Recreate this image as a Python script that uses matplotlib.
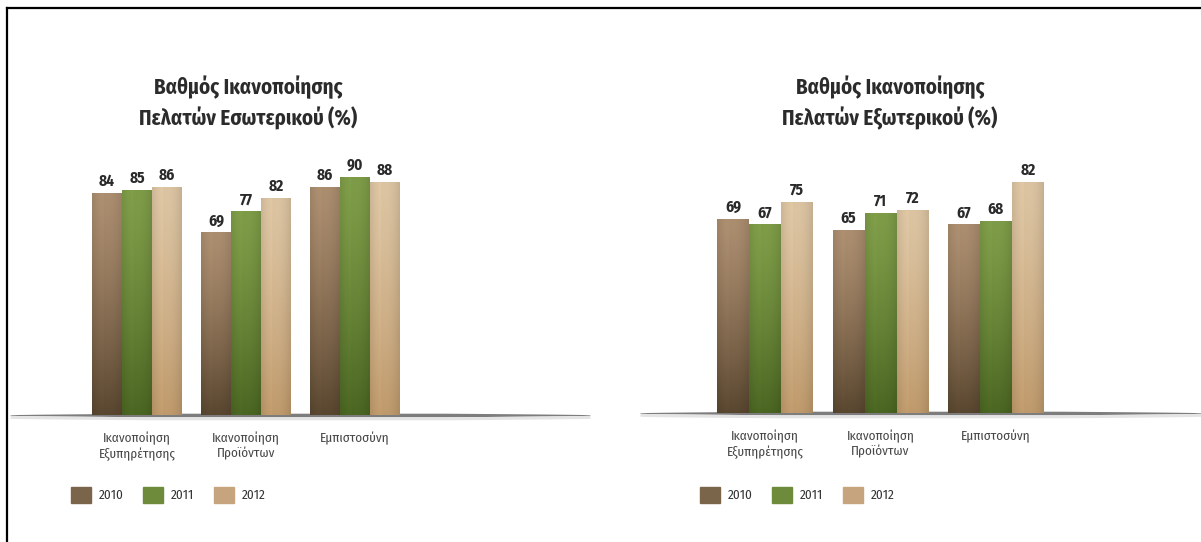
import matplotlib.pyplot as plt
import numpy as np
from matplotlib.lines import Line2D
from matplotlib.patches import Patch
from matplotlib.colors import to_rgb

# Data
years = ['2010', '2011', '2012']
categories = ['Ικανοποίηση\nΕξυπηρέτησης', 'Ικανοποίηση\nΠροϊόντων', 'Εμπιστοσύνη']
internal = {'2010': [84, 69, 86], '2011': [85, 77, 90], '2012': [86, 82, 88]}
external = {'2010': [69, 65, 67], '2011': [67, 71, 68], '2012': [75, 72, 82]}
title_int = ['Βαθμός Ικανοποίησης', 'Πελατών Εσωτερικού (%)']
title_ext = ['Βαθμός Ικανοποίησης', 'Πελατών Εξωτερικού (%)']

# bar gradients (top, bottom) and legend colours
grad = {'2010': ('#ab8d6f', '#5a4730'),
        '2011': ('#7e9c48', '#4b6622'),
        '2012': ('#dcc4a2', '#bf9a6c')}
legend_col = {'2010': '#7b654a', '2011': '#6e8b3c', '2012': '#c6a57e'}

FONT = ['Fira Sans Condensed', 'DejaVu Sans']
W, H = 1201, 542

fig = plt.figure(figsize=(W / 100, H / 100), dpi=100)


def gradient_img(top, bottom, n=64, m=24):
    t = np.linspace(0, 1, n)[:, None, None] ** 1.3
    img = np.array(to_rgb(top))[None, None, :] * (1 - t) + np.array(to_rgb(bottom))[None, None, :] * t
    u = np.linspace(-1, 1, m)
    shade = 1.0 - 0.10 * u ** 2 + 0.03 * (u < -0.3)
    img = img * shade[None, :, None]
    return np.clip(img, 0, 1)


def panel(x0, x1, base_y, px_unit, c0, spacing, bar_px, data, title, title_x, legend_x):
    # axes placed in pixel space; data x = group index
    ax = fig.add_axes([x0 / W, (H - base_y) / H, (x1 - x0) / W, 100 * px_unit / H])
    ax.set_axis_off()
    width = bar_px / spacing
    idx = np.arange(len(categories))
    for k, yr in enumerate(years):
        pos = idx + (k - 1) * width
        bars = ax.bar(pos, data[yr], width=width, color=legend_col[yr], zorder=2)
        img = gradient_img(*grad[yr])
        for b, v in zip(bars, data[yr]):
            ax.imshow(img, extent=(b.get_x(), b.get_x() + b.get_width(), 0, v),
                      aspect='auto', zorder=3, interpolation='bilinear')
            ax.annotate(str(v), (b.get_x() + b.get_width() / 2, v), xytext=(0, 3),
                        textcoords='offset points', ha='center', va='bottom',
                        fontsize=11, fontweight='bold', color='#2a2a2a', family=FONT)
    xl = ((x0 - c0) / spacing, (x1 - c0) / spacing)
    # floor shadow, tapered at both ends
    xs = np.linspace(xl[0], xl[1], 300)
    s = np.linspace(0, 1, 300)
    taper = np.clip(np.minimum(s, 1 - s) * 4, 0, 1) ** 0.7
    half = (0.3 + 1.5 * taper) / px_unit
    ax.fill_between(xs, -half, half, color='#7d7d7d', lw=0, zorder=1, clip_on=False)
    ax.fill_between(xs, -half - 3 / px_unit, -half, color='#e4e4e4', lw=0, zorder=1, clip_on=False)
    ax.set_xlim(*xl)
    ax.set_ylim(0, 100)
    for i, cat in enumerate(categories):
        ax.annotate(cat, (i, 0), xytext=(0, -12), textcoords='offset points',
                    ha='center', va='top', fontsize=9.5, color='#474747',
                    family=FONT, linespacing=1.2)
    # titles
    fig.text(title_x / W, 1 - 87 / H, title[0], ha='center', va='center',
             fontsize=15, fontweight='bold', color='#2b2b2b', family=FONT)
    fig.text(title_x / W, 1 - 118 / H, title[1], ha='center', va='center',
             fontsize=15, fontweight='bold', color='#2b2b2b', family=FONT)
    handles = [Patch(color=legend_col[y], label=y) for y in years]
    fig.legend(handles=handles, loc='center left', bbox_to_anchor=(legend_x / W, 1 - 495 / H),
               ncol=3, frameon=False, handlelength=1.5, handleheight=1.6,
               handletextpad=0.6, columnspacing=1.5, borderpad=0, borderaxespad=0,
               prop={'family': FONT, 'size': 9.5}, labelcolor='#333333')


panel(10, 590, 415, 2.64, 137, 109, 30, internal, title_int, 248, 71)
panel(640, 1201, 413, 2.81, 765, 115.5, 32, external, title_ext, 890, 700)

# frame lines at top and left
fig.add_artist(Line2D([7 / W, 7 / W], [0, 1 - 8 / H], color='black', lw=1.6))
fig.add_artist(Line2D([7 / W, 1], [1 - 8 / H, 1 - 8 / H], color='black', lw=1.6))

fig.savefig('out.png', dpi=100)
